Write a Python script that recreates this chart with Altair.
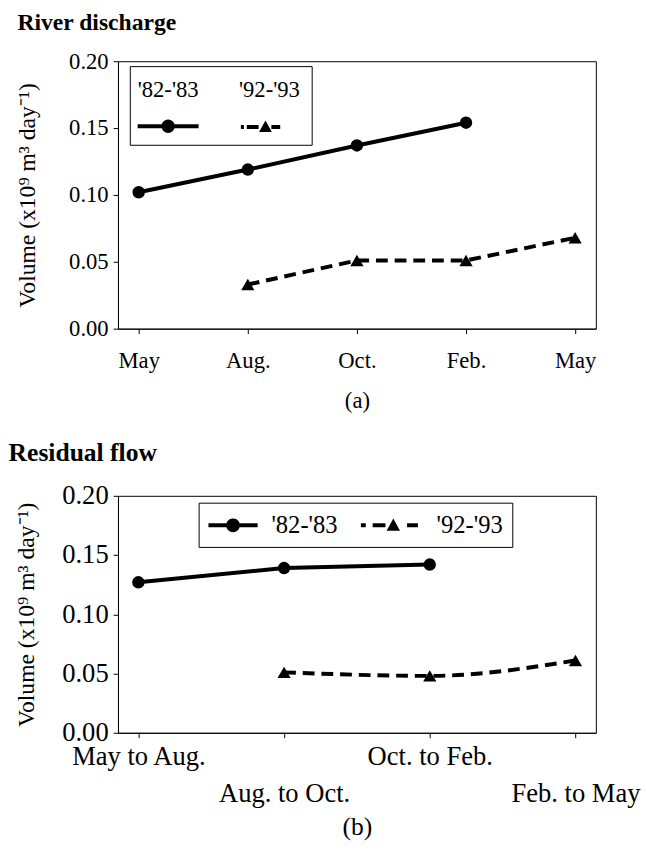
import json
import math
import altair as alt
import pandas as pd

# ---------------- data ----------------
series = ["'82-'83", "'92-'93"]

a_periods = ["May", "Aug.", "Oct.", "Feb.", "May"]
a_8283 = [0.102, 0.119, 0.137, 0.154, None]
a_9293 = [None, 0.033, 0.051, 0.051, 0.068]

b_periods = ["May to Aug.", "Aug. to Oct.", "Oct. to Feb.", "Feb. to May"]
b_8283 = [0.127, 0.139, 0.142, None]
b_9293 = [None, 0.051, 0.048, 0.061]

y_ticks = [0.0, 0.05, 0.10, 0.15, 0.20]


def long_table(periods, s1, s2):
    rows = []
    for i, p in enumerate(periods):
        for name, vals in zip(series, [s1, s2]):
            if vals[i] is not None:
                rows.append({"idx": i, "period": p, "series": name, "value": vals[i]})
    return pd.DataFrame(rows)


df_a = long_table(a_periods, a_8283, a_9293)
df_b = long_table(b_periods, b_8283, b_9293)

FONT = "Liberation Serif"
YTITLE = "Volume (x10\u2079 m\u00b3 day\u207b\u00b9)"


# ---------------- legend symbol shapes (style only; filled geometry, pixel units / scale) ----------------
def f(v):
    return f"{v:.3f}"


class Sym:
    def __init__(self, s, dx=0.0, dy=0.0):
        self.s, self.dx, self.dy = s, dx, dy
        self.parts = []

    def p(self, x, y):
        return f"{f((x + self.dx) / self.s)},{f((y + self.dy) / self.s)}"

    def bar(self, x0, x1, h=2.0):
        self.parts.append(f"M{self.p(x0, -h)} L{self.p(x1, -h)} L{self.p(x1, h)} L{self.p(x0, h)} Z")
        return self

    def circle(self, cx, r, n=24):
        pts = [self.p(cx + r * math.cos(2 * math.pi * k / n), r * math.sin(2 * math.pi * k / n)) for k in range(n)]
        self.parts.append("M" + " L".join(pts) + " Z")
        return self

    def tri(self, cx, r):
        self.parts.append(f"M{self.p(cx, -r)} L{self.p(cx + r, 0.8 * r)} L{self.p(cx - r, 0.8 * r)} Z")
        return self

    def path(self):
        return " ".join(self.parts)


# panel (a): symbol below its label
WA = 24
SA = WA / 2
sym_a1 = Sym(SA, dx=15, dy=37).bar(-31, 31).circle(0, 6.8).path()
sym_a2 = Sym(SA, dx=15, dy=37).bar(-29, -26).bar(-23, -11).tri(-4, 6.5).bar(2, 11).path()

# panel (b): symbol, then label
WB = 28
SB = WB / 2
sym_b1 = Sym(SB, dx=12).bar(-25, 25).circle(0, 7.0).path()
sym_b2 = Sym(SB, dx=12).bar(-38, -33).bar(-26, -13).tri(-5, 6.8).bar(9, 20).path()


def panel(df, x_enc, height, title, sym_paths, legend, dash_interp, tick_fs, ttl_pad):
    y_enc = alt.Y(
        "value:Q",
        scale=alt.Scale(domain=[0, 0.2], nice=False, zero=True),
        axis=alt.Axis(
            values=y_ticks,
            format=".2f",
            title=YTITLE,
            titlePadding=ttl_pad,
            labelPadding=5,
            labelFontSize=tick_fs,
            titleFontSize=24,
        ),
    )
    base = alt.Chart(df).encode(x=x_enc, y=y_enc)
    s1 = base.transform_filter(alt.datum.series == series[0])
    s2 = base.transform_filter(alt.datum.series == series[1])
    line1 = s1.mark_line(color="black", strokeWidth=4, interpolate="linear")
    line2 = s2.mark_line(color="black", strokeWidth=4, strokeDash=[12, 7], interpolate=dash_interp)
    pt1 = s1.mark_point(shape="circle", filled=True, size=160, color="black", opacity=1)
    pt2 = s2.mark_point(shape="triangle-up", filled=True, size=180, color="black", opacity=1)
    leg = base.transform_filter("false").mark_point(
        filled=False, fill="black", stroke="black", strokeWidth=0, opacity=1
    ).encode(
        shape=alt.Shape(
            "series:N",
            scale=alt.Scale(domain=series, range=sym_paths),
            legend=legend,
        ),
    )
    return alt.layer(line1, line2, pt1, pt2, leg).properties(width=486, height=height, title=title)


x_a = alt.X(
    "idx:O",
    scale=alt.Scale(type="point", padding=0.19),
    axis=alt.Axis(
        labelExpr=json.dumps(a_periods) + "[datum.value]",
        labelAngle=0,
        title="(a)",
        labelFontSize=23,
        titleFontSize=23,
        labelPadding=17,
        titlePadding=17,
    ),
)

second_row = json.dumps(b_periods[1::2])
x_b = alt.X(
    "period:N",
    sort=b_periods,
    scale=alt.Scale(type="point", padding=0.14),
    axis=alt.Axis(
        labelExpr=f"indexof({second_row}, datum.label) >= 0 ? ['', datum.label] : datum.label",
        labelAngle=0,
        labelOverlap=False,
        labelLineHeight=38,
        labelFontSize=27,
        titleFontSize=26,
        title="(b)",
        labelPadding=6,
        titlePadding=7,
    ),
)

legend_common = dict(
    title=None,
    orient="none",
    direction="horizontal",
    labelFont=FONT,
    labelColor="black",
    labelLimit=0,
    labelBaseline="middle",
    symbolFillColor="black",
    symbolStrokeColor="black",
    symbolStrokeWidth=0,
    symbolOpacity=1,
    strokeColor="black",
    fillColor="white",
)

legend_a = alt.Legend(
    legendX=12,
    legendY=5,
    symbolSize=WA * WA,
    labelFontSize=23,
    labelAlign="center",
    labelOffset=3,
    columnPadding=41,
    padding=12,
    **legend_common,
)
legend_b = alt.Legend(
    legendX=82,
    legendY=7,
    symbolSize=WB * WB,
    labelFontSize=25,
    labelAlign="left",
    labelOffset=37,
    columnPadding=23,
    padding=9,
    **legend_common,
)

title_a = alt.TitleParams("River discharge", anchor="start", frame="bounds", offset=16, dx=2, fontSize=24)
title_b = alt.TitleParams("Residual flow", anchor="start", frame="bounds", offset=16, dx=-6, fontSize=26)

chart_a = panel(df_a, x_a, 272, title_a, [sym_a1, sym_a2], legend_a, "linear", 23, 30)
chart_b = panel(df_b, x_b, 241, title_b, [sym_b1, sym_b2], legend_b, "monotone", 27, 24)

chart = (
    alt.vconcat(chart_a, chart_b, spacing=27)
    .resolve_scale(shape="independent")
    .resolve_legend(shape="independent")
    .properties(padding={"left": 8, "top": 3, "right": 5, "bottom": 5}, background="white")
    .configure_view(stroke="black", strokeWidth=1)
    .configure_axis(
        domainColor="black",
        domainWidth=1,
        tickColor="black",
        tickWidth=1,
        tickSize=5,
        labelColor="black",
        titleColor="black",
        labelFont=FONT,
        titleFont=FONT,
        titleFontWeight="normal",
        grid=False,
    )
    .configure_title(font=FONT, fontWeight="bold", color="black", anchor="start")
)

chart.save("out.html", embed_options={"renderer": "svg", "actions": False})
